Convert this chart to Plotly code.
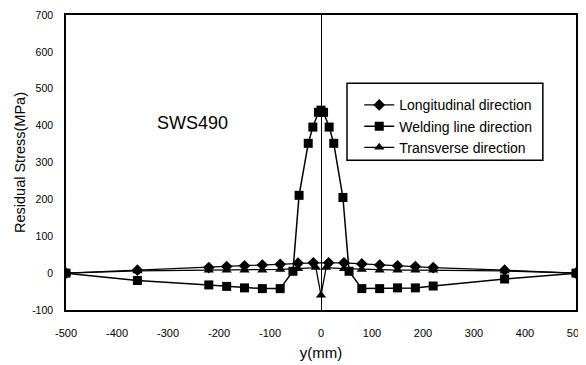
import plotly.graph_objects as go

# Data
x_long = [-500, -360, -220, -185, -150, -115, -80, -45, -15, 15, 45, 80, 115, 150, 185, 220, 360, 500]
y_long = [0, 8, 15, 18, 20, 22, 24, 27, 28, 28, 28, 25, 22, 20, 18, 15, 8, 0]

x_weld = [-500, -360, -220, -185, -150, -115, -80, -55, -43, -25, -16, -5, 0, 5, 16, 25, 43, 55, 80, 115, 150, 185, 220, 360, 500]
y_weld = [0, -20, -32, -36, -40, -42, -42, 5, 211, 352, 396, 436, 442, 436, 396, 352, 205, 5, -42, -42, -40, -40, -35, -16, 0]

x_trans = [-500, -360, -220, -185, -150, -115, -80, -45, -10, 0, 10, 45, 80, 115, 150, 185, 220, 360, 500]
y_trans = [0, 6, 8, 8, 8, 8, 10, 12, 15, -60, 15, 12, 10, 8, 8, 8, 8, 6, 0]

series_names = ["Longitudinal direction", "Welding line direction", "Transverse direction"]
x_ticks = [-500, -400, -300, -200, -100, 0, 100, 200, 300, 400, 500]
y_ticks = [-100, 0, 100, 200, 300, 400, 500, 600, 700]

font_family = "Liberation Sans, Arial, sans-serif"

fig = go.Figure()
fig.add_trace(go.Scatter(x=x_long, y=y_long, mode="lines+markers", name=series_names[0],
                         line=dict(color="black", width=1.3),
                         marker=dict(symbol="diamond", size=9, color="black")))
fig.add_trace(go.Scatter(x=x_weld, y=y_weld, mode="lines+markers", name=series_names[1],
                         line=dict(color="black", width=1.5),
                         marker=dict(symbol="square", size=9, color="black")))
fig.add_trace(go.Scatter(x=x_trans, y=y_trans, mode="lines+markers", name=series_names[2],
                         line=dict(color="black", width=1.3),
                         marker=dict(symbol="triangle-up", size=9, color="black")))

fig.add_annotation(text="SWS490", x=-325, y=406, xref="x", yref="y", showarrow=False,
                   xanchor="left", yanchor="middle",
                   font=dict(family=font_family, size=18, color="black"))

# legend frame (drawn as a box; legend itself placed inside with padding)
fig.add_shape(type="rect", xref="paper", yref="paper", x0=0.551, x1=0.935, y0=0.508, y1=0.769,
              line=dict(color="black", width=1.5), fillcolor="white", layer="above")

# Page body has an 8px default margin, so margins are reduced accordingly
fig.update_layout(
    width=586, height=365,
    margin=dict(l=58, r=18, t=7, b=63),
    paper_bgcolor="white", plot_bgcolor="white",
    font=dict(family=font_family, color="black"),
    showlegend=True,
    legend=dict(x=0.575, y=0.748, xanchor="left", yanchor="top",
                borderwidth=0, bgcolor="rgba(0,0,0,0)",
                font=dict(family=font_family, size=14, color="black"),
                itemwidth=30, tracegroupgap=0),
    xaxis=dict(range=[-500, 500], tickvals=x_ticks, ticktext=[str(v) for v in x_ticks],
               showgrid=False, zeroline=True, zerolinecolor="black", zerolinewidth=1,
               showline=True, linecolor="black", linewidth=1.5, mirror=True,
               ticks="", ticklabelstandoff=12, automargin=False,
               tickfont=dict(size=11, family=font_family, color="black"),
               title=dict(text="y(mm)", font=dict(size=15, family=font_family, color="black"), standoff=10)),
    yaxis=dict(range=[-100, 700], tickvals=y_ticks, ticktext=[str(v) for v in y_ticks],
               showgrid=False, zeroline=False,
               showline=True, linecolor="black", linewidth=1.5, mirror=True,
               ticks="", ticklabelstandoff=9, automargin=False,
               tickfont=dict(size=10.5, family=font_family, color="black"),
               title=dict(text="Residual Stress(MPa)", font=dict(size=14.5, family=font_family, color="black"), standoff=3)),
)

fig.write_html("out.html")
